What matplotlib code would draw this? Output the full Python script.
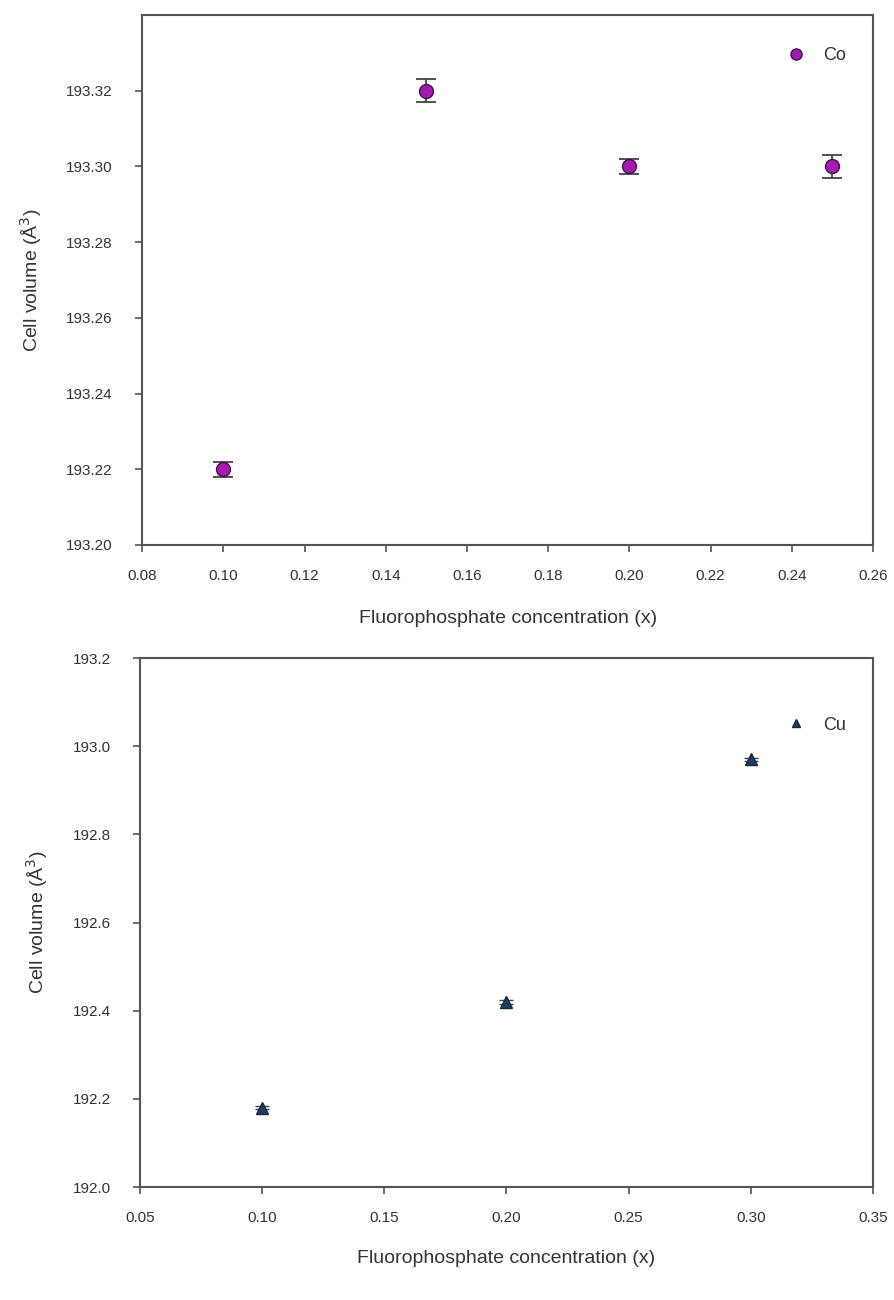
import matplotlib.pyplot as plt
from matplotlib.lines import Line2D
import numpy as np

plt.rcParams['font.family'] = ['Liberation Sans', 'DejaVu Sans']

# Co-doped series
co_x = [0.10, 0.15, 0.20, 0.25]
co_vol = [193.22, 193.32, 193.30, 193.30]
co_err = [0.002, 0.003, 0.002, 0.003]

# Cu-doped series
cu_x = [0.10, 0.20, 0.30]
cu_vol = [192.18, 192.42, 192.97]
cu_err = [0.004, 0.004, 0.004]

xlabel = "Fluorophosphate concentration (x)"
ylabel = "Cell volume (Å$^3$)"

fig = plt.figure(figsize=(8.94, 13), dpi=100)
ax1 = fig.add_axes([0.159, 0.5808, 0.8175, 0.4077])
ax2 = fig.add_axes([0.1566, 0.0869, 0.8199, 0.4069])

co_style = dict(marker='o', color='#a21caf', mec='#4a0a4f', ms=10, linestyle='none')
cu_style = dict(marker='^', color='#1f3d63', mec='#14283f', ms=8, linestyle='none')

ax1.errorbar(co_x, co_vol, yerr=co_err, fmt='none', ecolor='#444444',
             elinewidth=1.3, capsize=7, capthick=1.3, zorder=2)
ax1.plot(co_x, co_vol, zorder=3, **co_style)
ax1.set_xlim(0.08, 0.26)
ax1.set_ylim(193.20, 193.34)
ax1.set_xticks(np.arange(0.08, 0.261, 0.02))
ax1.set_yticks(np.arange(193.20, 193.321, 0.02))
ax1.xaxis.set_major_formatter(plt.FormatStrFormatter('%.2f'))
ax1.yaxis.set_major_formatter(plt.FormatStrFormatter('%.2f'))

ax2.errorbar(cu_x, cu_vol, yerr=cu_err, fmt='none', ecolor='#444444',
             elinewidth=1.0, capsize=5, capthick=1.0, zorder=2)
ax2.plot(cu_x, cu_vol, zorder=3, **cu_style)
ax2.set_xlim(0.05, 0.35)
ax2.set_ylim(192.0, 193.2)
ax2.set_xticks(np.arange(0.05, 0.351, 0.05))
ax2.set_yticks(np.arange(192.0, 193.21, 0.2))
ax2.xaxis.set_major_formatter(plt.FormatStrFormatter('%.2f'))
ax2.yaxis.set_major_formatter(plt.FormatStrFormatter('%.1f'))

panels = ((ax1, 'Co', co_style, 0.97, 16), (ax2, 'Cu', cu_style, 0.92, 14))
for ax, name, style, leg_y, xpad in panels:
    for s in ax.spines.values():
        s.set_color('#555555')
        s.set_linewidth(1.5)
    ax.tick_params(direction='out', length=5, width=1.2, color='#555555',
                   labelsize=11, labelcolor='#333333')
    ax.tick_params(axis='x', pad=12)
    ax.tick_params(axis='y', pad=16)
    ax.set_xlabel(xlabel, fontsize=14, color='#333333', labelpad=xpad + 4)
    ax.set_ylabel(ylabel, fontsize=14, color='#333333', labelpad=16)
    handle = Line2D([], [], **dict(style, ms=style['ms'] * 0.8))
    leg = ax.legend([handle], [name], loc='upper right', bbox_to_anchor=(0.985, leg_y),
                    frameon=False, fontsize=13, handletextpad=0.9, handlelength=1.2)
    for t in leg.get_texts():
        t.set_color('#333333')

fig.savefig('out.png', dpi=100)
